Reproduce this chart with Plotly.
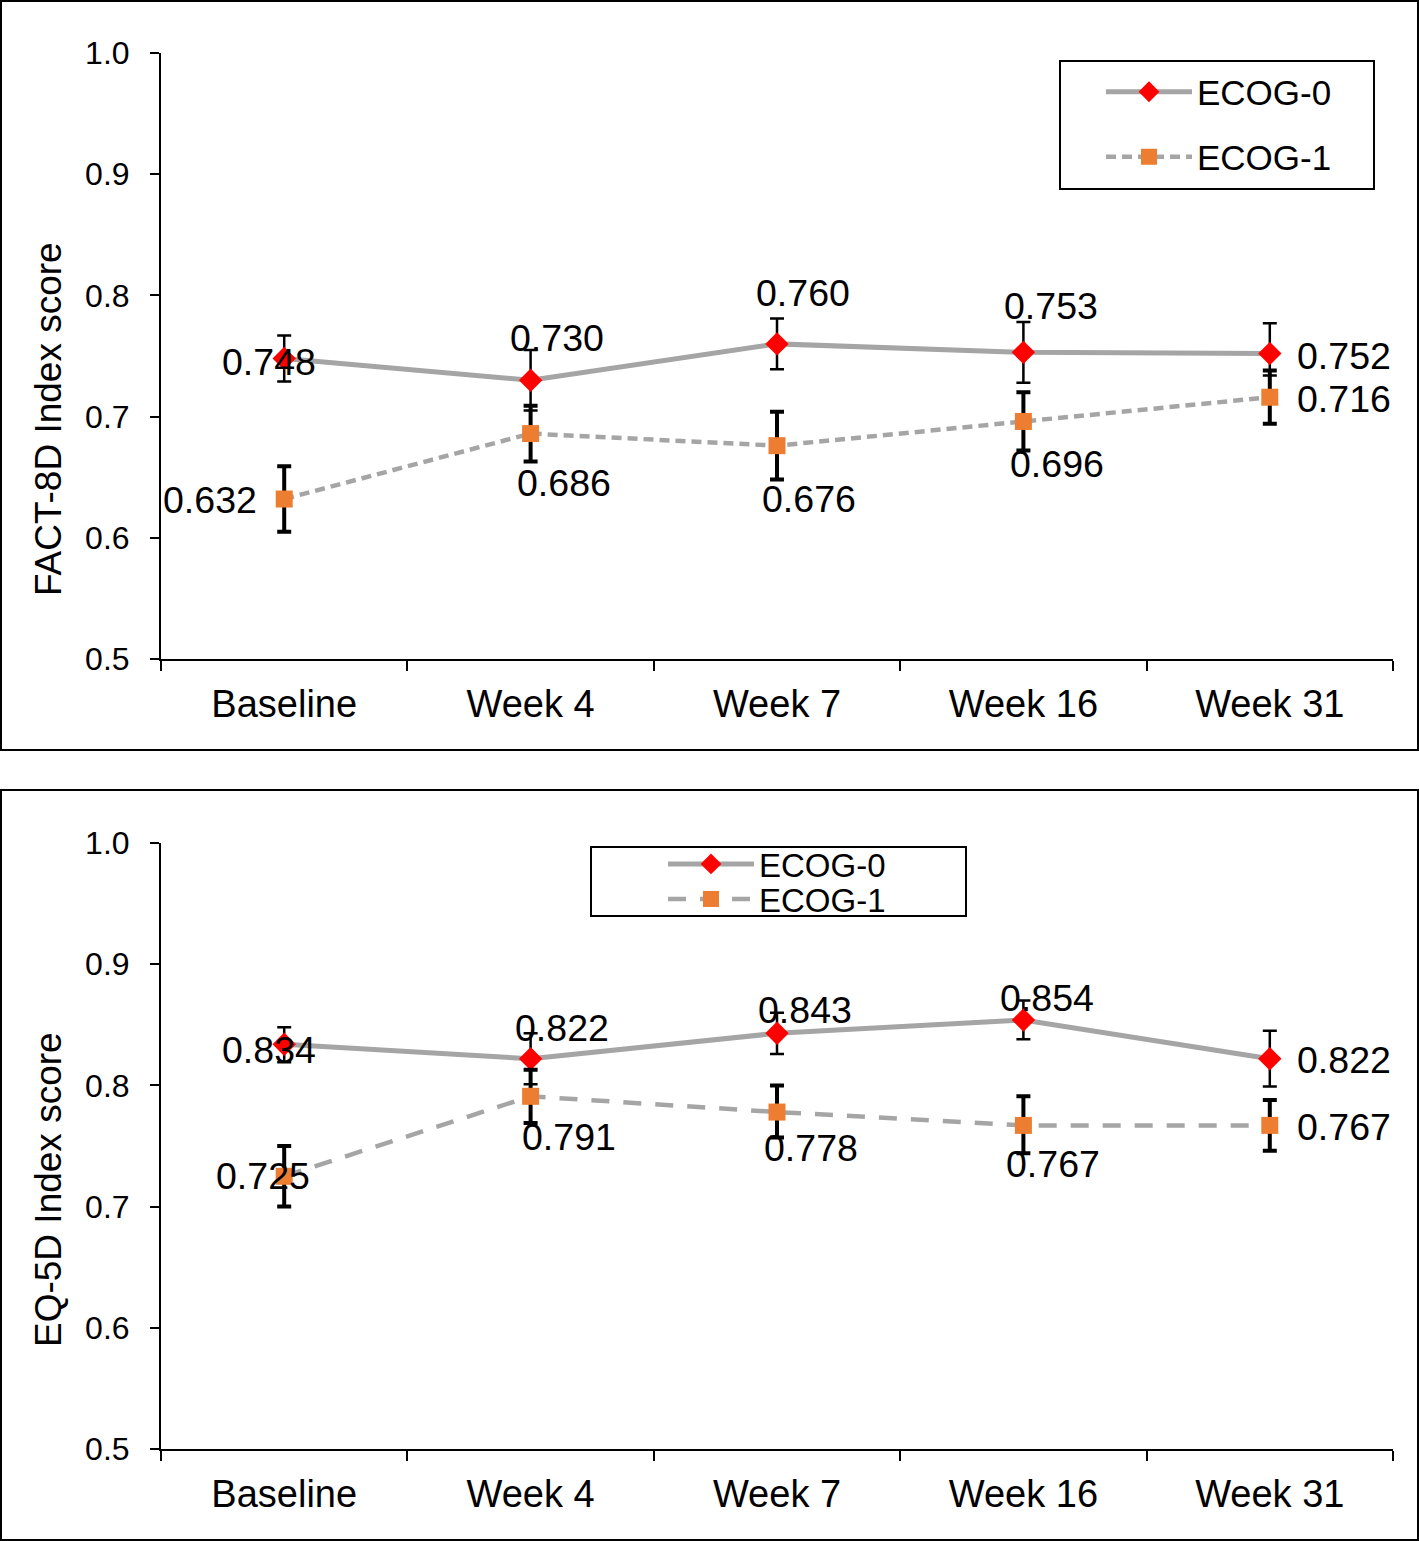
import plotly.graph_objects as go
from plotly.subplots import make_subplots

# --- data -----------------------------------------------------------------
visits = ["Baseline", "Week 4", "Week 7", "Week 16", "Week 31"]

fact_ecog0 = [0.748, 0.730, 0.760, 0.753, 0.752]
fact_ecog0_hi = [0.019, 0.025, 0.021, 0.025, 0.025]
fact_ecog0_lo = [0.019, 0.025, 0.021, 0.025, 0.018]
fact_ecog1 = [0.632, 0.686, 0.676, 0.696, 0.716]
fact_ecog1_hi = [0.027, 0.023, 0.028, 0.024, 0.022]
fact_ecog1_lo = [0.027, 0.023, 0.028, 0.024, 0.022]

eq_ecog0 = [0.834, 0.822, 0.843, 0.854, 0.822]
eq_ecog0_hi = [0.014, 0.021, 0.017, 0.016, 0.023]
eq_ecog0_lo = [0.015, 0.021, 0.017, 0.016, 0.023]
eq_ecog1 = [0.725, 0.791, 0.778, 0.767, 0.767]
eq_ecog1_hi = [0.025, 0.022, 0.022, 0.024, 0.021]
eq_ecog1_lo = [0.025, 0.022, 0.021, 0.023, 0.021]

W, H = 1419, 1541
FONT = "Liberation Sans, Arial, Helvetica, sans-serif"
GRAY = "#A5A5A5"
RED = "#FF0000"
ORANGE = "#ED7D31"


def px_x(p):
    return p / W


def px_y(p):
    return 1 - p / H


fig = make_subplots(rows=2, cols=1)

# (values, hi, lo, row, name, legend, dash)
series = [
    (fact_ecog0, fact_ecog0_hi, fact_ecog0_lo, 1, "ECOG-0", "legend", None),
    (fact_ecog1, fact_ecog1_hi, fact_ecog1_lo, 1, "ECOG-1", "legend2", "10px,6px"),
    (eq_ecog0, eq_ecog0_hi, eq_ecog0_lo, 2, "ECOG-0", "legend3", None),
    (eq_ecog1, eq_ecog1_hi, eq_ecog1_lo, 2, "ECOG-1", "legend4", "18px,14px"),
]

for vals, hi, lo, row, name, leg, dash in series:
    is0 = name == "ECOG-0"
    fig.add_trace(go.Scatter(
        x=visits, y=vals, name=name, mode="lines+markers", legend=leg,
        line=dict(color=GRAY, width=5 if is0 else 4.5, dash=dash or "solid"),
        marker=dict(symbol="diamond" if is0 else "square",
                    color=RED if is0 else ORANGE, size=18 if is0 else 17,
                    line=dict(width=0)),
        error_y=dict(type="data", array=hi, arrayminus=lo, symmetric=False,
                     color="black", thickness=2.5 if is0 else 4, width=7),
    ), row=row, col=1)

# value labels: pixel offsets (dx, dy) from the marker, per series
label_offsets = [
    [(-15, -4), (26, 42), (26, 51), (28, 46), (74, -2)],
    [(-74, -1), (33, -49), (32, -53), (34, -43), (74, -2)],
    [(-15, -6), (31, 31), (28, 23), (24, 22), (74, -1)],
    [(-21, 0), (38, -41), (34, -36), (30, -39), (74, -2)],
]
for (vals, hi, lo, row, name, leg, dash), offs in zip(series, label_offsets):
    for cat, v, (dx, dy) in zip(visits, vals, offs):
        fig.add_annotation(
            x=cat, y=v, xref=f"x{row if row > 1 else ''}", yref=f"y{row if row > 1 else ''}",
            text=f"{v:.3f}", showarrow=False, xshift=dx, yshift=dy,
            xanchor="center", yanchor="middle",
            font=dict(family=FONT, size=37.5, color="black"))

# axis titles as annotations
for title, yc in [("FACT-8D Index score", 419), ("EQ-5D Index score", 1190)]:
    fig.add_annotation(x=px_x(48), y=px_y(yc), xref="paper", yref="paper",
                       text=title, textangle=-90, showarrow=False,
                       xanchor="center", yanchor="middle",
                       font=dict(family=FONT, size=37, color="black"))

xdom = [px_x(161), px_x(1393)]
axis_common = dict(showline=True, linecolor="black", linewidth=2,
                   showgrid=False, zeroline=False, ticks="outside",
                   tickcolor="black", tickwidth=2, automargin=False)
for row, (top, bot) in zip([1, 2], [(53, 659), (843, 1449)]):
    fig.update_xaxes(domain=xdom, range=[-0.5, 4.5], tickson="boundaries",
                     ticklen=10, ticklabelstandoff=10,
                     tickfont=dict(family=FONT, size=38, color="black"),
                     **axis_common, row=row, col=1)
    fig.update_yaxes(domain=[px_y(bot), px_y(top)], range=[0.5, 1.0],
                     dtick=0.1, tickformat=".1f", ticklen=9, ticklabelstandoff=14,
                     tickfont=dict(family=FONT, size=32, color="black"),
                     **axis_common, row=row, col=1)

# panel frames and legend boxes
shapes = [
    dict(x0=px_x(1), x1=px_x(1418), y0=px_y(750), y1=px_y(1)),
    dict(x0=px_x(1), x1=px_x(1418), y0=px_y(1540), y1=px_y(790)),
    dict(x0=px_x(1060), x1=px_x(1374), y0=px_y(189), y1=px_y(61)),
    dict(x0=px_x(591), x1=px_x(966), y0=px_y(916), y1=px_y(847)),
]
for s in shapes:
    fig.add_shape(type="rect", xref="paper", yref="paper",
                  line=dict(color="black", width=2), fillcolor="rgba(0,0,0,0)", **s)

leg_common = dict(bgcolor="rgba(0,0,0,0)", borderwidth=0, itemwidth=86,
                  xanchor="left", yanchor="middle")
big = dict(family=FONT, size=35, color="black")
small = dict(family=FONT, size=33, color="black")
fig.update_layout(
    width=W, height=H,
    margin=dict(l=0, r=0, t=0, b=0, autoexpand=False),
    plot_bgcolor="white", paper_bgcolor="white",
    showlegend=True,
    legend=dict(x=px_x(1101), y=px_y(92), font=big, **leg_common),
    legend2=dict(x=px_x(1101), y=px_y(157), font=big, **leg_common),
    legend3=dict(x=px_x(663), y=px_y(864), font=small, **leg_common),
    legend4=dict(x=px_x(663), y=px_y(899), font=small, **leg_common),
)

fig.write_html("out.html", config={"displayModeBar": False},
               post_script="document.body.style.margin='0';")
